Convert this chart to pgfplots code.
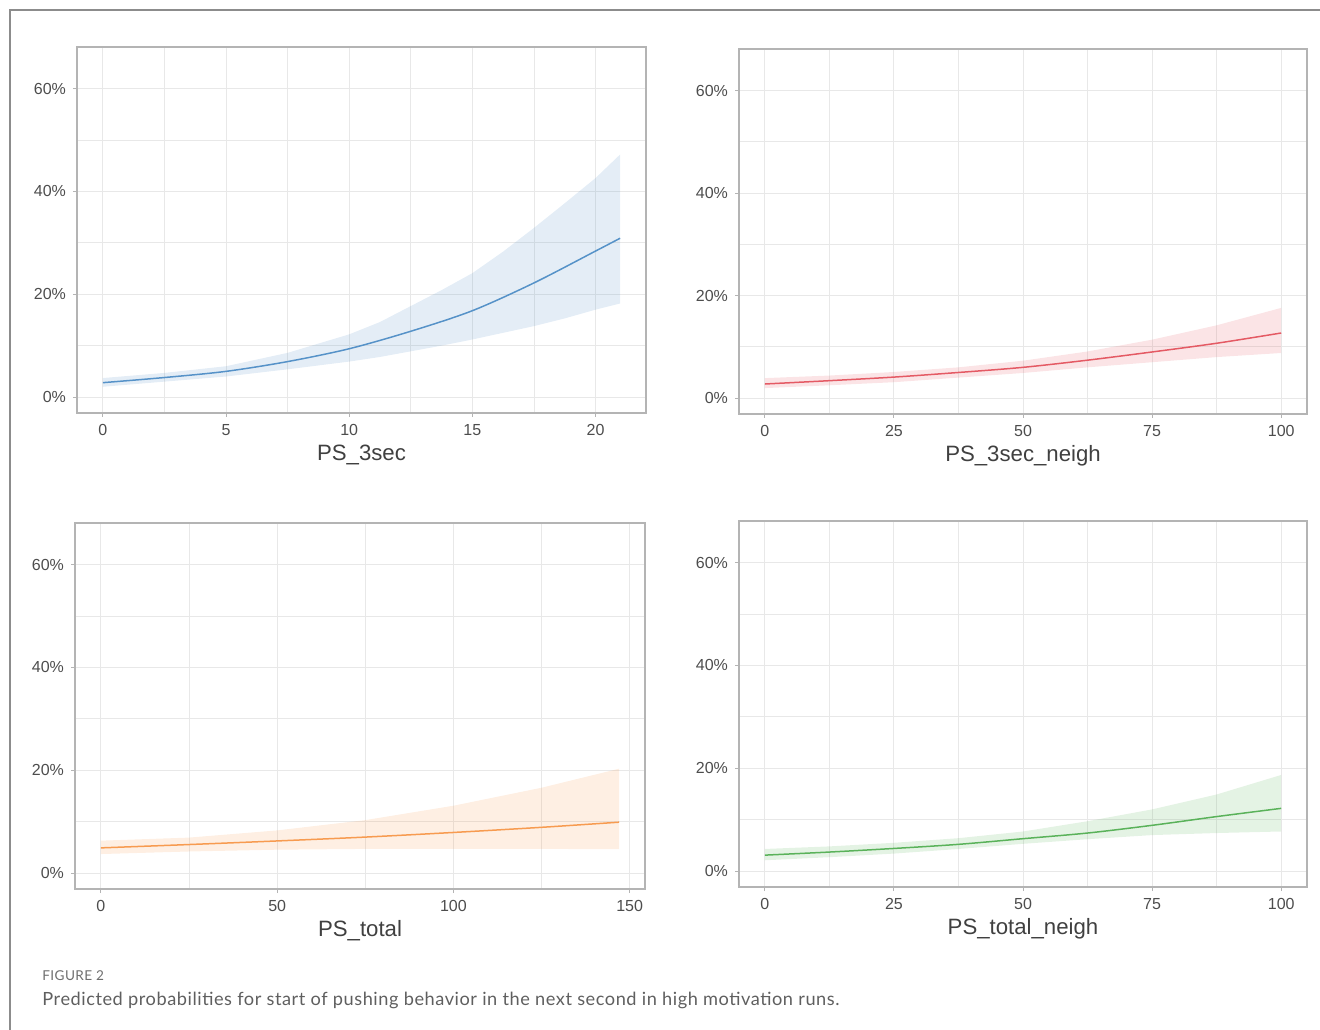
\documentclass[border=0pt]{standalone}
\usepackage{fontspec}
\setmainfont{Liberation Sans}
\newfontfamily\capfont[LetterSpace=3]{Lato}
\usepackage{pgfplots}
\pgfplotsset{compat=1.18}
\definecolor{gridc}{RGB}{232,232,232}
\definecolor{framec}{RGB}{180,180,180}
\definecolor{tickc}{RGB}{77,77,77}
\definecolor{titlec}{RGB}{64,64,64}
\definecolor{blueL}{RGB}{86,146,200}
\definecolor{redL}{RGB}{228,90,100}
\definecolor{orangeL}{RGB}{247,155,80}
\definecolor{greenL}{RGB}{90,178,90}
\pgfplotsset{
  panel/.style={
    scale only axis,
    ymin=-3.1, ymax=68.1,
    ytick={0,20,40,60}, yticklabels={0\%,20\%,40\%,60\%},
    minor ytick={10,30,50},
    grid=both,
    major grid style={line width=0.5pt, color=gridc},
    minor grid style={line width=0.4pt, color=gridc},
    axis line style={line width=0.6pt, color=framec},
    tick align=outside,
    major tick length=2pt, minor tick length=0pt,
    xtick pos=lower, ytick pos=left,
    tick style={color=framec, line width=0.5pt},
    every tick label/.append style={font=\fontsize{8}{9.6}\selectfont, text=tickc},
    /pgf/number format/assume math mode=true,
    xlabel style={font=\fontsize{11.1}{13}\selectfont, text=titlec, at={(axis description cs:0.5,0)}, anchor=center, yshift=-21pt},
  },
  band/.style={draw=none, fill=#1, fill opacity=0.16},
  curve/.style={draw=#1, line width=0.75pt, smooth, no markers},
}
\begin{document}
\begin{tikzpicture}
\path[use as bounding box] (0pt,0pt) rectangle (660pt,514.5pt);
\draw[color={rgb,255:red,140;green,140;blue,140}, line width=0.8pt] (5pt,-2pt) -- (5pt,509.5pt) -- (662pt,509.5pt);

% Panel 1: PS_3sec
\begin{axis}[panel, at={(38.5pt,308pt)}, anchor=south west, width=284.5pt, height=183pt,
  xmin=-1.05, xmax=22.05, xtick={0,5,10,15,20}, minor xtick={2.5,7.5,12.5,17.5},
  xlabel={PS\_3sec}]
\addplot[band=blueL] coordinates {(0,3.7) (2.5,4.7) (5,6.0) (7.5,8.6) (10,12.2) (11.25,14.6) (12.5,17.7) (13.75,20.8) (15,24.1) (16.25,28.3) (17.5,32.9) (18.75,37.7) (20,42.6) (21,47.2)
  (21,18.2) (20,17.0) (18.75,15.3) (17.5,13.8) (16.25,12.5) (15,11.2) (13.75,10.0) (12.5,8.9) (11.25,7.8) (10,6.9) (7.5,5.4) (5,4.0) (2.5,3.0) (0,2.0)} -- cycle;
\addplot[curve=blueL] coordinates {(0,2.8) (2.5,3.8) (5,5.0) (7.5,6.9) (10,9.4) (12.5,12.8) (15,16.8) (17.5,22.2) (20,28.4) (21,30.9)};
\end{axis}

% Panel 2: PS_3sec_neigh
\begin{axis}[panel, at={(369.5pt,307.5pt)}, anchor=south west, width=284pt, height=182.5pt,
  xmin=-5, xmax=105, xtick={0,25,50,75,100}, minor xtick={12.5,37.5,62.5,87.5},
  xlabel={PS\_3sec\_neigh}]
\addplot[band=redL] coordinates {(0,3.9) (12.5,4.4) (25,5.1) (37.5,6.0) (50,7.3) (62.5,9.1) (75,11.4) (87.5,14.2) (100,17.6)
  (100,8.8) (87.5,8.0) (75,7.0) (62.5,6.0) (50,4.9) (37.5,4.0) (25,3.1) (12.5,2.5) (0,1.95)} -- cycle;
\addplot[curve=redL] coordinates {(0,2.75) (12.5,3.4) (25,4.1) (37.5,5.0) (50,6.0) (62.5,7.4) (75,9.0) (87.5,10.7) (100,12.7)};
\end{axis}

% Panel 3: PS_total
\begin{axis}[panel, at={(37.5pt,70pt)}, anchor=south west, width=285pt, height=183pt,
  xmin=-7.35, xmax=154.35, xtick={0,50,100,150}, minor xtick={25,75,125},
  xlabel={PS\_total}]
\addplot[band=orangeL] coordinates {(0,6.3) (25,6.9) (50,8.3) (75,10.3) (100,13.1) (125,16.6) (147,20.3)
  (147,4.65) (125,4.7) (100,4.7) (75,4.7) (50,4.55) (25,4.2) (0,3.7)} -- cycle;
\addplot[curve=orangeL] coordinates {(0,4.9) (25,5.55) (50,6.25) (75,7.0) (100,7.9) (125,8.9) (147,9.9)};
\end{axis}

% Panel 4: PS_total_neigh
\begin{axis}[panel, at={(369.5pt,71pt)}, anchor=south west, width=284pt, height=183pt,
  xmin=-5, xmax=105, xtick={0,25,50,75,100}, minor xtick={12.5,37.5,62.5,87.5},
  xlabel={PS\_total\_neigh}]
\addplot[band=greenL] coordinates {(0,4.3) (12.5,4.8) (25,5.5) (37.5,6.4) (50,7.7) (62.5,9.7) (75,12.0) (87.5,14.9) (100,18.7)
  (100,7.7) (87.5,7.4) (75,7.0) (62.5,6.2) (50,5.3) (37.5,4.3) (25,3.4) (12.5,2.7) (0,2.1)} -- cycle;
\addplot[curve=greenL] coordinates {(0,3.1) (12.5,3.7) (25,4.4) (37.5,5.2) (50,6.3) (62.5,7.4) (75,8.9) (87.5,10.6) (100,12.2)};
\end{axis}

\node[anchor=west, inner sep=0pt, text={rgb,255:red,110;green,110;blue,110}, font=\capfont\fontsize{6.8}{8}\selectfont] at (21pt,26.5pt) {FIGURE 2};
\node[anchor=west, inner sep=0pt, text={rgb,255:red,95;green,95;blue,95}, font=\capfont\fontsize{9.1}{11}\selectfont] at (21pt,14.2pt) {Predicted probabilities for start of pushing behavior in the next second in high motivation runs.};
\end{tikzpicture}
\end{document}
